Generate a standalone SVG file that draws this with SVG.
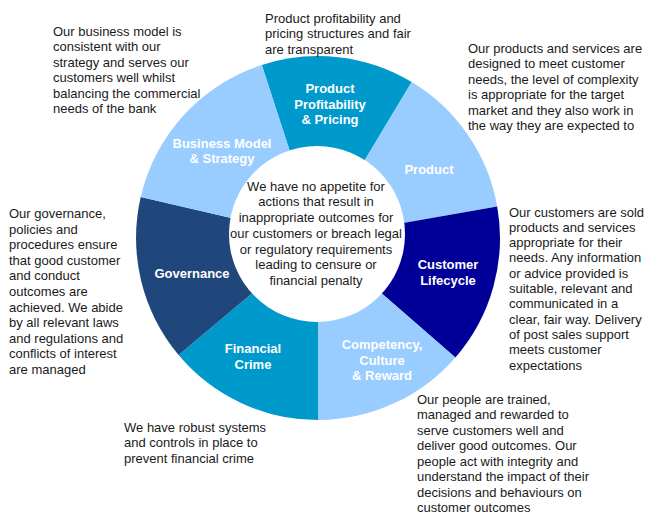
<svg xmlns="http://www.w3.org/2000/svg" width="645" height="514" viewBox="0 0 645 514">
<style>
.lbl{font-family:"Liberation Sans",Arial,sans-serif;font-size:13px;font-weight:bold;fill:#ffffff;text-anchor:middle}
.note{font-family:"Liberation Sans",Arial,sans-serif;font-size:13px;fill:#1a1a1a}
.ctr{font-family:"Liberation Sans",Arial,sans-serif;font-size:13px;fill:#1a1a1a;text-anchor:middle}
.mid{fill:#0099cc}
.light{fill:#99ccff}
.navy{fill:#000099}
.dark{fill:#1f477b}
</style>
<rect width="645" height="514" fill="#ffffff"/>

<g id="product-profitability">
<path class="mid" d="M318 238 L261.8 64.9 A182 182 0 0 1 411.7 82.0 Z"/>
<text class="lbl" x="330" y="93">Product</text>
<text class="lbl" x="330" y="108.5">Profitability</text>
<text class="lbl" x="330" y="124">&amp; Pricing</text>
</g>

<g id="product">
<path class="light" d="M318 238 L411.7 82.0 A182 182 0 0 1 497.2 206.4 Z"/>
<text class="lbl" x="429" y="174">Product</text>
</g>

<g id="customer-lifecycle">
<path class="navy" d="M318 238 L497.2 206.4 A182 182 0 0 1 455.4 357.4 Z"/>
<text class="lbl" x="448" y="269">Customer</text>
<text class="lbl" x="448" y="285">Lifecycle</text>
</g>

<g id="competency">
<path class="light" d="M318 238 L455.4 357.4 A182 182 0 0 1 318 420 Z"/>
<text class="lbl" x="382" y="349">Competency,</text>
<text class="lbl" x="382" y="364.5">Culture</text>
<text class="lbl" x="382" y="380">&amp; Reward</text>
</g>

<g id="financial-crime">
<path class="mid" d="M318 238 L318 420 A182 182 0 0 1 178.6 355.0 Z"/>
<text class="lbl" x="253" y="353">Financial</text>
<text class="lbl" x="253" y="368.5">Crime</text>
</g>

<g id="governance">
<path class="dark" d="M318 238 L178.6 355.0 A182 182 0 0 1 140.7 197.1 Z"/>
<text class="lbl" x="192" y="278">Governance</text>
</g>

<g id="business-model">
<path class="light" d="M318 238 L140.7 197.1 A182 182 0 0 1 261.8 64.9 Z"/>
<text class="lbl" x="222" y="148">Business Model</text>
<text class="lbl" x="222" y="163">&amp; Strategy</text>
</g>

<g id="centre">
<circle cx="317" cy="234" r="88" fill="#ffffff"/>
<text class="ctr" x="316" y="190.5">We have no appetite for</text>
<text class="ctr" x="316" y="206.3">actions that result in</text>
<text class="ctr" x="316" y="222">inappropriate outcomes for</text>
<text class="ctr" x="316" y="237.8">our customers or breach legal</text>
<text class="ctr" x="316" y="253.6">or regulatory requirements</text>
<text class="ctr" x="316" y="269.4">leading to censure or</text>
<text class="ctr" x="316" y="285.2">financial penalty</text>
</g>

<g id="note-business-model">
<text class="note" x="53" y="35.5">Our business model is</text>
<text class="note" x="53" y="51">consistent with our</text>
<text class="note" x="53" y="66.5">strategy and serves our</text>
<text class="note" x="53" y="82">customers well whilst</text>
<text class="note" x="53" y="97.5">balancing the commercial</text>
<text class="note" x="53" y="113">needs of the bank</text>
</g>

<g id="note-product-profitability">
<text class="note" x="265" y="22.5">Product profitability and</text>
<text class="note" x="265" y="38.3">pricing structures and fair</text>
<text class="note" x="265" y="54">are transparent</text>
</g>

<g id="note-product">
<text class="note" x="468" y="52.5">Our products and services are</text>
<text class="note" x="468" y="68">designed to meet customer</text>
<text class="note" x="468" y="83.5">needs, the level of complexity</text>
<text class="note" x="468" y="99">is appropriate for the target</text>
<text class="note" x="468" y="114.5">market and they also work in</text>
<text class="note" x="468" y="130">the way they are expected to</text>
</g>

<g id="note-governance">
<text class="note" x="9" y="218">Our governance,</text>
<text class="note" x="9" y="233.6">policies and</text>
<text class="note" x="9" y="249.2">procedures ensure</text>
<text class="note" x="9" y="264.8">that good customer</text>
<text class="note" x="9" y="280.4">and conduct</text>
<text class="note" x="9" y="296">outcomes are</text>
<text class="note" x="9" y="311.6">achieved. We abide</text>
<text class="note" x="9" y="327.2">by all relevant laws</text>
<text class="note" x="9" y="342.8">and regulations and</text>
<text class="note" x="9" y="358.4">conflicts of interest</text>
<text class="note" x="9" y="374">are managed</text>
</g>

<g id="note-customer-lifecycle">
<text class="note" x="509" y="216.5">Our customers are sold</text>
<text class="note" x="509" y="231.8">products and services</text>
<text class="note" x="509" y="247.1">appropriate for their</text>
<text class="note" x="509" y="262.4">needs. Any information</text>
<text class="note" x="509" y="277.7">or advice provided is</text>
<text class="note" x="509" y="293">suitable, relevant and</text>
<text class="note" x="509" y="308.3">communicated in a</text>
<text class="note" x="509" y="323.6">clear, fair way. Delivery</text>
<text class="note" x="509" y="338.9">of post sales support</text>
<text class="note" x="509" y="354.2">meets customer</text>
<text class="note" x="509" y="369.5">expectations</text>
</g>

<g id="note-financial-crime">
<text class="note" x="124" y="431.5">We have robust systems</text>
<text class="note" x="124" y="447.3">and controls in place to</text>
<text class="note" x="124" y="463">prevent financial crime</text>
</g>

<g id="note-competency">
<text class="note" x="417" y="403.5">Our people are trained,</text>
<text class="note" x="417" y="419">managed and rewarded to</text>
<text class="note" x="417" y="434.6">serve customers well and</text>
<text class="note" x="417" y="450.2">deliver good outcomes. Our</text>
<text class="note" x="417" y="465.8">people act with integrity and</text>
<text class="note" x="417" y="481.4">understand the impact of their</text>
<text class="note" x="417" y="497">decisions and behaviours on</text>
<text class="note" x="417" y="512.2">customer outcomes</text>
</g>
</svg>
